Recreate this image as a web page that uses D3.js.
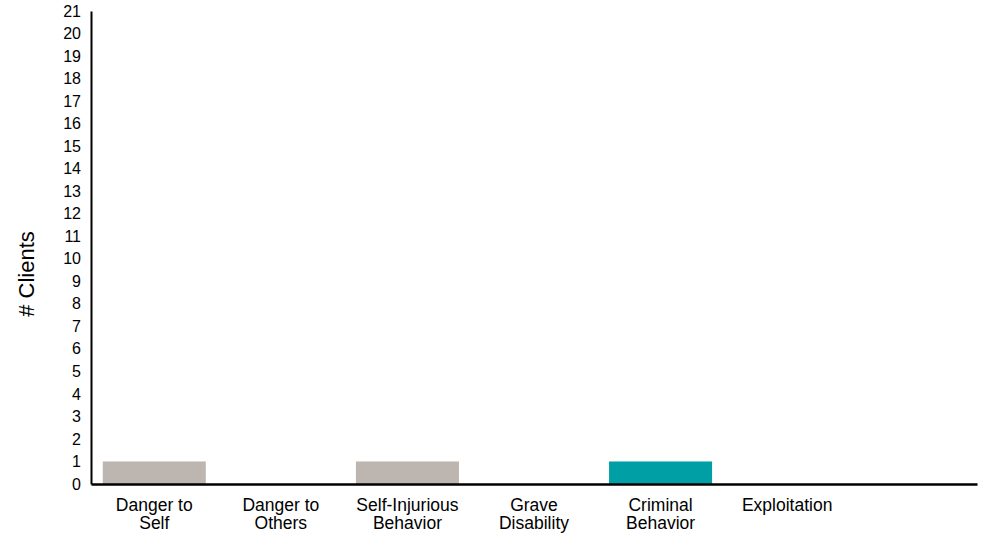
<!DOCTYPE html>
<html><head><meta charset="utf-8">
<script src="https://cdn.jsdelivr.net/npm/d3@7"></script>
<style>body{margin:0;background:#fff}svg{display:block;font-family:Arial,"Liberation Sans",sans-serif}</style>
</head><body>
<svg id="c" width="1002" height="536"></svg>
<script>
const categories = ["Danger to\nSelf","Danger to\nOthers","Self-Injurious\nBehavior","Grave\nDisability","Criminal\nBehavior","Exploitation",""];
const values = [1,0,1,0,1,0,0];
const barColors = ["#bdb5b0","#bdb5b0","#bdb5b0","#bdb5b0","#009fa6","#bdb5b0","#bdb5b0"];
const yTicks = d3.range(0,22);
const yLabel = "# Clients";

const svg = d3.select("#c");
const x = d3.scaleBand().domain(d3.range(categories.length)).range([91,977]).paddingInner(0.186).paddingOuter(0.093);
const y = d3.scaleLinear().domain([0,21]).range([484,11]);

svg.selectAll("rect.bar").data(values).join("rect").attr("class","bar")
  .attr("x",(d,i)=>x(i)).attr("width",x.bandwidth())
  .attr("y",d=>y(d)).attr("height",d=>y(0)-y(d))
  .attr("fill",(d,i)=>barColors[i]);

const ya = svg.append("g").attr("transform","translate(91,0)")
  .call(d3.axisLeft(y).tickValues(yTicks).tickSize(0).tickPadding(10).tickFormat(d3.format("d")));
ya.select(".domain").attr("stroke","#000").attr("stroke-width",2);
ya.selectAll("text").attr("font-size",16).attr("fill","#000").attr("font-family","Arial, 'Liberation Sans', sans-serif");

const xa = svg.append("g").attr("transform","translate(0,484)")
  .call(d3.axisBottom(x).tickSize(0).tickFormat(""));
xa.select(".domain").attr("stroke","#000").attr("stroke-width",2.5);
xa.selectAll(".tick").each(function(d){
  const lines = categories[d].split("\n");
  const t = d3.select(this).append("text").attr("fill","#000").attr("font-size",17.5)
    .attr("text-anchor","middle").attr("font-family","Arial, 'Liberation Sans', sans-serif");
  lines.forEach((l,k)=>t.append("tspan").attr("x",0).attr("y",27+k*18).text(l));
});

svg.append("text").attr("transform","translate(34,274) rotate(-90)")
  .attr("text-anchor","middle").attr("font-size",22).attr("fill","#000").text(yLabel);
</script>
</body></html>
